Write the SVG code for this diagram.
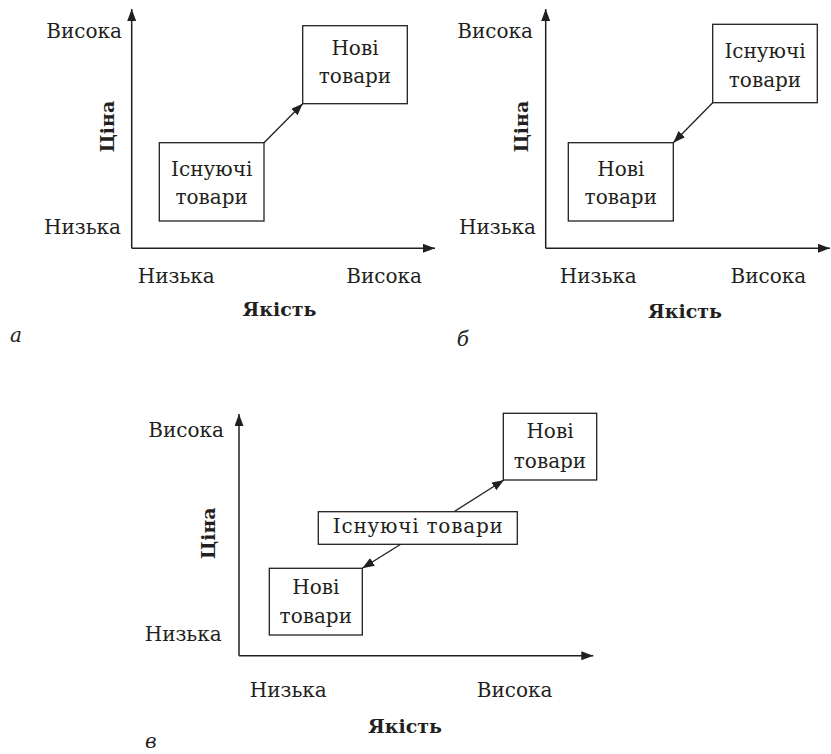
<svg xmlns="http://www.w3.org/2000/svg" width="831" height="754" viewBox="0 0 831 754">
<style>
text{font-family:"DejaVu Serif","Liberation Serif",serif;font-size:20px;fill:#231f20}
.m{text-anchor:middle}
.e{text-anchor:end}
.b{font-weight:bold;font-size:19px}
.i{font-style:italic}
.box{fill:#fff;stroke:#231f20;stroke-width:1.3}
.ax{fill:none;stroke:#231f20;stroke-width:1.5}
.cn{fill:none;stroke:#231f20;stroke-width:1.3}
</style>
<defs>
<marker id="ah" markerUnits="userSpaceOnUse" markerWidth="14" markerHeight="10" refX="12" refY="4.5" orient="auto">
<path d="M0,0 L12,4.5 L0,9 z" fill="#231f20"/>
</marker>
</defs>
<rect width="831" height="754" fill="#fff"/>

<g id="connectors">
<line class="ax" x1="131.7" y1="248.3" x2="131.7" y2="9" marker-end="url(#ah)"/>
<line class="ax" x1="131.7" y1="248.3" x2="435" y2="248.3" marker-end="url(#ah)"/>
<line class="cn" x1="264" y1="142.7" x2="302.7" y2="103.7" marker-end="url(#ah)"/>

<line class="ax" x1="545.7" y1="248.3" x2="545.7" y2="9" marker-end="url(#ah)"/>
<line class="ax" x1="545.7" y1="248.3" x2="830" y2="248.3" marker-end="url(#ah)"/>
<line class="cn" x1="712.7" y1="102.7" x2="673.3" y2="142.7" marker-end="url(#ah)"/>

<line class="ax" x1="239" y1="655.7" x2="239" y2="414" marker-end="url(#ah)"/>
<line class="ax" x1="239" y1="655.7" x2="593.3" y2="655.7" marker-end="url(#ah)"/>
<line class="cn" x1="454" y1="511.7" x2="504" y2="480" marker-end="url(#ah)"/>
<line class="cn" x1="400.7" y1="544.3" x2="362.3" y2="568.3" marker-end="url(#ah)"/>
</g>

<g id="panel-a-labels">
<text class="e" x="122" y="38">Висока</text>
<text class="e" x="121" y="234">Низька</text>
<text class="m" x="176.3" y="283.3">Низька</text>
<text class="m" x="384.2" y="283.3">Висока</text>
<text class="m b" x="279.5" y="316">Якість</text>
<text class="m b" transform="translate(114,126.7) rotate(-90)">Ціна</text>
<text class="i" x="10" y="341.7">а</text>
</g>
<g id="a-new">
<rect class="box" x="302.7" y="25.7" width="104.6" height="78"/>
<text class="m" x="355" y="55">Нові</text>
<text class="m" x="355" y="83.3">товари</text>
</g>
<g id="a-existing">
<rect class="box" x="159.3" y="142.7" width="104.7" height="78.3"/>
<text class="m" x="211.7" y="175.7">Існуючі</text>
<text class="m" x="211.7" y="203.6">товари</text>
</g>

<g id="panel-b-labels">
<text class="e" x="533" y="38.3">Висока</text>
<text class="e" x="536" y="234.3">Низька</text>
<text class="m" x="598.3" y="283.3">Низька</text>
<text class="m" x="768.3" y="283.3">Висока</text>
<text class="m b" x="685" y="318">Якість</text>
<text class="m b" transform="translate(528.3,126.7) rotate(-90)">Ціна</text>
<text class="i" x="456.7" y="346">б</text>
</g>
<g id="b-existing">
<rect class="box" x="712.7" y="24.3" width="104.6" height="78.4"/>
<text class="m" x="765" y="58.3">Існуючі</text>
<text class="m" x="765" y="86.7">товари</text>
</g>
<g id="b-new">
<rect class="box" x="568.3" y="142.7" width="105" height="78.3"/>
<text class="m" x="620.8" y="175.7">Нові</text>
<text class="m" x="620.8" y="203.6">товари</text>
</g>

<g id="panel-c-labels">
<text class="e" x="224" y="436.7">Висока</text>
<text class="e" x="221.7" y="640.7">Низька</text>
<text class="m" x="288.3" y="696.7">Низька</text>
<text class="m" x="514.7" y="696.7">Висока</text>
<text class="m b" x="405" y="733.3">Якість</text>
<text class="m b" transform="translate(215,533.3) rotate(-90)">Ціна</text>
<text class="i" x="145" y="748">в</text>
</g>
<g id="c-new-high">
<rect class="box" x="503.3" y="413.3" width="93.4" height="66.7"/>
<text class="m" x="550" y="438.3">Нові</text>
<text class="m" x="550" y="468.3">товари</text>
</g>
<g id="c-existing">
<rect class="box" x="318.3" y="511.7" width="199" height="32.6"/>
<text class="m" x="417.8" y="533.3" textLength="170" lengthAdjust="spacing">Існуючі товари</text>
</g>
<g id="c-new-low">
<rect class="box" x="269.3" y="568.3" width="93" height="66.7"/>
<text class="m" x="315.8" y="594">Нові</text>
<text class="m" x="315.8" y="623.3">товари</text>
</g>
</svg>
